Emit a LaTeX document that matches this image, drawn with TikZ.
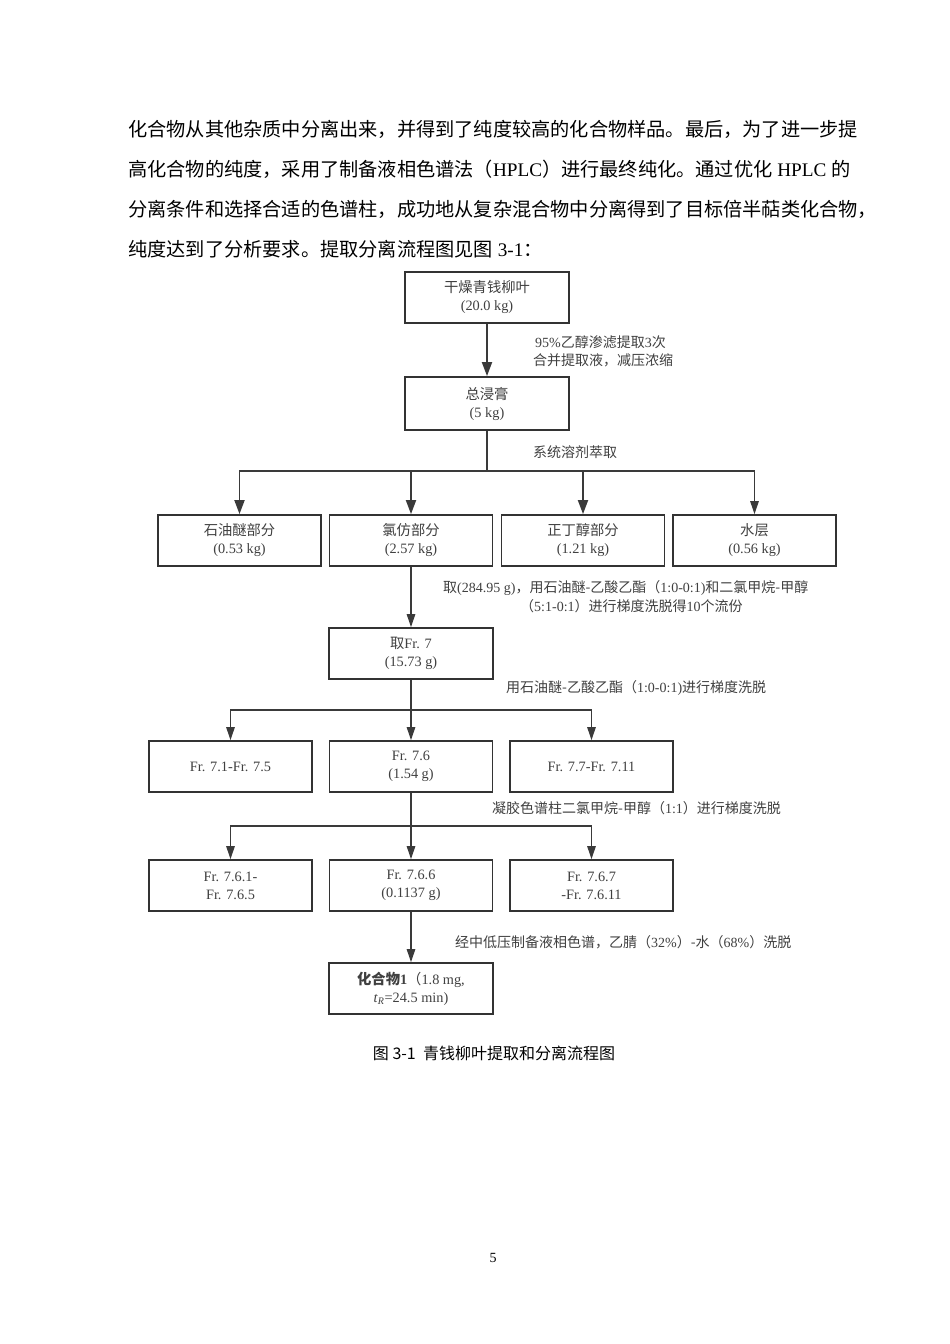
\documentclass[tikz,border=0pt]{standalone}
\usepackage{fontspec}
\setmainfont{Liberation Serif}
\newfontfamily\cjkf{Noto Sans CJK SC}
\usetikzlibrary{arrows.meta}
\newcommand\zh[1]{{\cjkf #1}}
\definecolor{boxc}{HTML}{333333}
\definecolor{linec}{HTML}{3A3A3A}
\definecolor{txtc}{HTML}{404040}
\begin{document}
\begin{tikzpicture}[x=1pt,y=-1pt,
  box/.style={draw=boxc, line width=1.8pt, minimum width=164pt, minimum height=51pt,
    inner sep=0pt, align=center, font=\fontsize{14.3}{18}\selectfont, text=txtc},
  lbl/.style={font=\fontsize{14}{18}\selectfont, text=txtc, inner sep=0pt},
  para/.style={font=\fontsize{19.2}{24}\selectfont, text=black, inner sep=0pt, anchor=west},
  arrA/.style={line width=1.8pt, draw=linec, -{Triangle[length=14pt,width=10pt]}},
  lnA/.style={line width=1.8pt, draw=linec},
  arrB/.style={line width=1.2pt, draw=linec, -{Triangle[length=13pt,width=8.5pt]}},
  lnB/.style={line width=1.2pt, draw=linec}]
\fill[white] (0,0) rectangle (950,1344);
\useasboundingbox (0,0) rectangle (950,1344);

% paragraph
\node[para] (p1) at (128,129) {\zh{化合物从其他杂质中分离出来，并得到了纯度较高的化合物样品。最后，为了进一步提}};
\node[para] (p2) at (128,169) {\zh{高化合物的纯度，采用了制备液相色谱法（}HPLC\zh{）进行最终纯化。通过优化} HPLC \zh{的}};
\node[para] (p3) at (128,209) {\zh{分离条件和选择合适的色谱柱，成功地从复杂混合物中分离得到了目标倍半萜类化合物，}};
\node[para] (p4) at (128,249) {\zh{纯度达到了分析要求。提取分离流程图见图} 3-1\zh{：}};

% boxes
\node[box] (b1) at (487,297.5) {\zh{干燥青钱柳叶}\\(20.0 kg)};
\node[box, minimum height=53pt] (b2) at (487,403.5) {\zh{总浸膏}\\(5 kg)};
\node[box, minimum width=163pt] (rA) at (239.5,540.5) {\zh{石油醚部分}\\(0.53 kg)};
\node[box, minimum width=163pt] (rB) at (411,540.5) {\zh{氯仿部分}\\(2.57 kg)};
\node[box, minimum width=163pt] (rC) at (583,540.5) {\zh{正丁醇部分}\\(1.21 kg)};
\node[box, minimum width=163pt] (rD) at (754.5,540.5) {\zh{水层}\\(0.56 kg)};
\node[box] (f7) at (411,653.5) {\zh{取}Fr. 7\\(15.73 g)};
\node[box, minimum width=163pt] (sA) at (230.5,766.5) {Fr. 7.1-Fr. 7.5};
\node[box, minimum width=163pt] (sB) at (411,766.5) {Fr. 7.6\\(1.54 g)};
\node[box, minimum width=163pt] (sC) at (591.5,766.5) {Fr. 7.7-Fr. 7.11};
\node[box, minimum width=163pt] (tA) at (230.5,885.5) {Fr. 7.6.1-\\Fr. 7.6.5};
\node[box, minimum width=163pt] (tB) at (411,885.5) {Fr. 7.6.6\\(0.1137 g)};
\node[box, minimum width=163pt] (tC) at (591.5,885.5) {Fr. 7.6.7\\-Fr. 7.6.11};
\node[box] (c1) at (411,988.5) {{\bfseries\zh{化合物}1}\zh{（}1.8 mg,\\\textit{t}\textsubscript{\textit{R}}=24.5 min)};

% labels
\node[lbl, anchor=west] (l1a) at (535,342) {95\%\zh{乙醇渗滤提取}3\zh{次}};
\node[lbl, anchor=west] (l1b) at (533,360) {\zh{合并提取液，减压浓缩}};
\node[lbl, anchor=west] (l2) at (533,452) {\zh{系统溶剂萃取}};
\node[lbl, anchor=west] (l3a) at (443,588) {\zh{取}(284.95 g)\zh{，用石油醚-乙酸乙酯（}1:0-0:1)\zh{和二氯甲烷-甲醇}};
\node[lbl, anchor=west] (l3b) at (520,606) {\zh{（}5:1-0:1\zh{）进行梯度洗脱得}10\zh{个流份}};
\node[lbl, anchor=west] (l4) at (506,688) {\zh{用石油醚-乙酸乙酯（}1:0-0:1)\zh{进行梯度洗脱}};
\node[lbl, anchor=west] (l5) at (492,808) {\zh{凝胶色谱柱二氯甲烷-甲醇（}1:1\zh{）进行梯度洗脱}};
\node[lbl, anchor=west] (l6) at (455,942) {\zh{经中低压制备液相色谱，乙腈（}32\%\zh{）-水（}68\%\zh{）洗脱}};

% connectors
\coordinate (j1) at (487,471);
\coordinate (j2) at (411,710);
\coordinate (j3) at (411,826);
\draw[arrA] (b1) -- (b2);
\draw[lnA] (b2) -- (j1);
\draw[arrA] (j1) -| (rA);
\draw[arrA] (j1) -| (rB);
\draw[arrA] (j1) -| (rC);
\draw[arrB] (j1) -| (rD);
\draw[arrB] (rB) -- (f7);
\draw[lnB] (f7) -- (j2);
\draw[arrB] (j2) -| (sA);
\draw[arrB] (j2) -- (sB);
\draw[arrB] (j2) -| (sC);
\draw[lnB] (sB) -- (j3);
\draw[arrB] (j3) -| (tA);
\draw[arrB] (j3) -- (tB);
\draw[arrB] (j3) -| (tC);
\draw[arrB] (tB) -- (c1);

% caption and page number
\node[font=\fontsize{16}{20}\selectfont\cjkf, text=black, inner sep=0pt] (cap) at (494,1053) {图 3-1\ \ 青钱柳叶提取和分离流程图};
\node[font=\fontsize{14}{18}\selectfont, text=black, inner sep=0pt] (pg) at (493,1258) {5};
\end{tikzpicture}
\end{document}
